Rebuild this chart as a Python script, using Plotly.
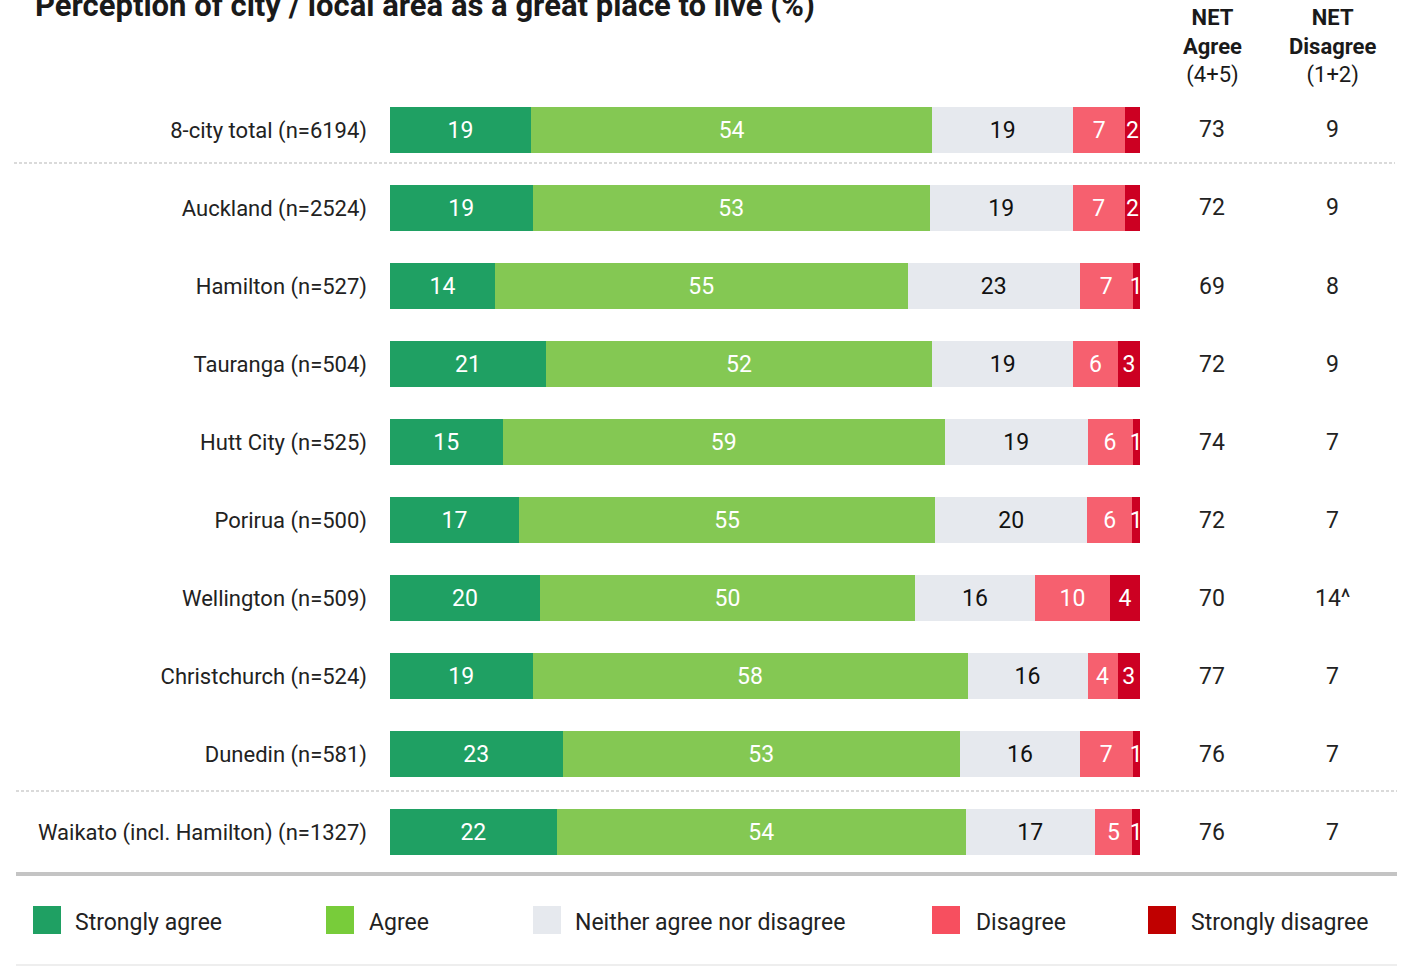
import plotly.graph_objects as go

categories = [
    "8-city total (n=6194)", "Auckland (n=2524)", "Hamilton (n=527)", "Tauranga (n=504)",
    "Hutt City (n=525)", "Porirua (n=500)", "Wellington (n=509)", "Christchurch (n=524)",
    "Dunedin (n=581)", "Waikato (incl. Hamilton) (n=1327)",
]
strongly_agree = [19, 19, 14, 21, 15, 17, 20, 19, 23, 22]
agree = [54, 53, 55, 52, 59, 55, 50, 58, 53, 54]
neither = [19, 19, 23, 19, 19, 20, 16, 16, 16, 17]
disagree = [7, 7, 7, 6, 6, 6, 10, 4, 7, 5]
strongly_disagree = [2, 2, 1, 3, 1, 1, 4, 3, 1, 1]
net_agree = ["73", "72", "69", "72", "74", "72", "70", "77", "76", "76"]
net_disagree = ["9", "9", "8", "9", "7", "7", "14^", "7", "7", "7"]

series = [
    ("Strongly agree", strongly_agree, "#1fa063", "#ffffff", "#1fa063"),
    ("Agree", agree, "#84c853", "#ffffff", "#78cc3a"),
    ("Neither agree nor disagree", neither, "#e6e9ee", "#111111", "#e6e9ee"),
    ("Disagree", disagree, "#f6606f", "#ffffff", "#f74f5f"),
    ("Strongly disagree", strongly_disagree, "#cc0022", "#ffffff", "#c00000"),
]

FONT = "Roboto"
W, H = 1409, 966

fig = go.Figure()
for name, vals, col, tcol, _ in series:
    fig.add_trace(go.Bar(
        y=categories, x=vals, name=name, orientation="h",
        marker=dict(color=col, line=dict(width=0)),
        text=[str(v) for v in vals], textposition="inside",
        insidetextanchor="middle", textangle=0, constraintext="none",
        textfont=dict(color=tcol, size=23, family=FONT),
        width=0.58, showlegend=False, hoverinfo="skip",
    ))

def px_x(x):
    return x / W

def px_y(y):
    return (H - y) / H

fig.update_layout(
    width=W, height=H,
    barmode="stack", barnorm="percent",
    margin=dict(l=0, r=0, t=0, b=0),
    paper_bgcolor="white", plot_bgcolor="white",
    uniformtext=dict(minsize=23, mode="show"),
    font=dict(family=FONT, color="#222222"),
    xaxis=dict(domain=[px_x(390), px_x(1140)], range=[0, 100], visible=False, fixedrange=True),
    yaxis=dict(domain=[px_y(871), px_y(91)], autorange=False, range=[9.5, -0.5],
               type="category", showgrid=False, zeroline=False, showline=False,
               ticks="", ticklabelstandoff=22, fixedrange=True,
               tickfont=dict(size=22, family=FONT, color="#222222")),
)

annotations = []
# title
annotations.append(dict(
    x=px_x(33), y=px_y(26), xref="paper", yref="paper", xanchor="left", yanchor="bottom",
    text="<b>Perception of city / local area as a great place to live (%)</b>",
    showarrow=False, font=dict(size=31, family=FONT, color="#1a1a1a"),
))
# column headers
for cx, word, sub in [(1212, "Agree", "(4+5)"), (1332, "Disagree", "(1+2)")]:
    annotations.append(dict(
        x=px_x(cx), y=px_y(46), xref="paper", yref="paper", xanchor="center", yanchor="middle",
        text=f"<b>NET</b><br><b>{word}</b><br>{sub}", showarrow=False,
        font=dict(size=22, family=FONT, color="#1a1a1a"),
    ))
# net values
for cat, na, nd in zip(categories, net_agree, net_disagree):
    annotations.append(dict(x=px_x(1212), y=cat, xref="paper", yref="y", text=na,
                            showarrow=False, xanchor="center", yanchor="middle",
                            font=dict(size=23, family=FONT, color="#222222")))
    annotations.append(dict(x=px_x(1332), y=cat, xref="paper", yref="y", text=nd,
                            showarrow=False, xanchor="center", yanchor="middle",
                            font=dict(size=23, family=FONT, color="#222222")))

# legend
legend_pos = [(33, 73), (326, 367), (533, 573), (932, 974), (1148, 1189)]
shapes = []
for (name, _, _, _, lcol), (sx, tx) in zip(series, legend_pos):
    shapes.append(dict(type="rect", xref="paper", yref="paper",
                       x0=px_x(sx), x1=px_x(sx + 28), y0=px_y(934), y1=px_y(906),
                       fillcolor=lcol, line=dict(width=0)))
    annotations.append(dict(x=px_x(tx), y=px_y(922), xref="paper", yref="paper",
                            xanchor="left", yanchor="middle", text=name, showarrow=False,
                            font=dict(size=23, family=FONT, color="#222222")))

# separators
shapes.append(dict(type="line", xref="paper", yref="paper", x0=px_x(14), x1=px_x(1395),
                   y0=px_y(163), y1=px_y(163), line=dict(color="#b5b5b5", width=1, dash="3px,2px")))
shapes.append(dict(type="line", xref="paper", yref="paper", x0=px_x(16), x1=px_x(1397),
                   y0=px_y(791), y1=px_y(791), line=dict(color="#b5b5b5", width=1, dash="3px,2px")))
shapes.append(dict(type="line", xref="paper", yref="paper", x0=px_x(16), x1=px_x(1397),
                   y0=px_y(874), y1=px_y(874), line=dict(color="#c4c4c4", width=4)))
shapes.append(dict(type="line", xref="paper", yref="paper", x0=px_x(16), x1=px_x(1397),
                   y0=px_y(965), y1=px_y(965), line=dict(color="#dddddd", width=1)))

fig.update_layout(annotations=annotations, shapes=shapes)
fig.write_html("out.html", config={"displayModeBar": False},
               post_script="document.body.style.margin='0';document.body.style.overflow='hidden';")
